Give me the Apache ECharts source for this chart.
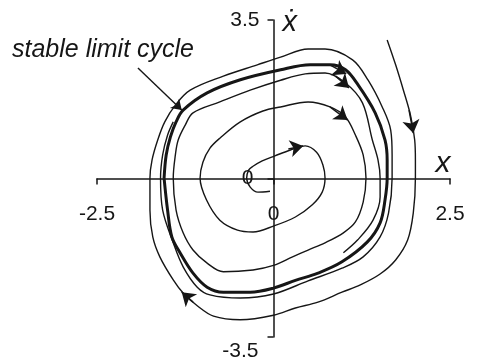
<!DOCTYPE html>
<html>
<head>
<meta charset="utf-8">
<script src="https://cdn.jsdelivr.net/npm/echarts@6/dist/echarts.min.js"></script>
<style>
  html, body { margin: 0; padding: 0; background: #fff; }
  #chart { width: 479px; height: 361px; }
</style>
</head>
<body>
<div id="chart"></div>
<script>
// Phase plane of a self-excited oscillator: x on the horizontal axis, x-dot vertically.
const xTicks = [-2.5, 0, 2.5];
const yTicks = [-3.5, 0, 3.5];
const xName = 'x';
const yName = '\u1E8B';
const cycleLabel = 'stable limit cycle';

// closed orbit (stable limit cycle), clockwise
const limitCycle = [
  [-1.55, 0.01], [-1.52, 0.52], [-1.46, 0.92], [-1.38, 1.25], [-1.28, 1.51],
  [-0.94, 1.89], [-0.47, 2.18], [0.10, 2.40], [0.52, 2.51], [0.80, 2.51],
  [1.02, 2.40], [1.20, 2.06], [1.44, 1.45], [1.58, 0.85], [1.61, 0.41],
  [1.61, 0.01], [1.58, -0.47], [1.51, -0.98], [1.33, -1.40], [0.97, -1.84],
  [0.63, -2.09], [0.31, -2.25], [0.00, -2.42], [-0.33, -2.51], [-0.71, -2.51],
  [-0.94, -2.40], [-1.14, -2.09], [-1.32, -1.65], [-1.44, -1.29], [-1.50, -0.70]
];

// trajectory entering from outside (upper right) and winding onto the cycle
const outerPath = [
  [1.61, 3.06], [1.73, 2.51], [1.84, 1.95], [1.94, 1.40], [2.00, 0.85],
  [2.01, 0.41], [2.01, 0.01], [1.98, -0.76], [1.90, -1.36], [1.73, -1.80],
  [1.51, -2.11], [1.23, -2.35], [0.97, -2.51], [0.63, -2.73], [0.31, -2.86],
  [0.00, -3.02], [-0.47, -3.12], [-0.85, -3.04], [-1.08, -2.81], [-1.28, -2.53],
  [-1.42, -2.24], [-1.61, -1.73], [-1.71, -1.29], [-1.75, -0.70], [-1.75, 0.01],
  [-1.72, 0.41], [-1.64, 0.85], [-1.54, 1.25], [-1.39, 1.62], [-1.18, 1.95],
  [-0.71, 2.26], [-0.23, 2.51], [0.10, 2.68], [0.49, 2.86], [0.73, 2.86],
  [1.12, 2.62], [1.34, 2.17], [1.54, 1.58], [1.66, 1.07], [1.68, 0.52],
  [1.68, 0.01], [1.63, -0.76], [1.51, -1.29], [1.27, -1.73], [0.97, -1.98],
  [0.49, -2.26], [0.00, -2.55], [-0.47, -2.64], [-0.90, -2.57], [-1.08, -2.40],
  [-1.28, -1.95], [-1.42, -1.42], [-1.57, -0.70], [-1.60, 0.01], [-1.57, 0.52],
  [-1.50, 0.96], [-1.42, 1.25]
];

// trajectory spiralling out from near the origin
const innerPath = [
  [-0.05, -0.28], [-0.22, -0.30], [-0.33, -0.19], [-0.38, 0.01], [-0.35, 0.19],
  [-0.29, 0.27], [-0.16, 0.39], [0.02, 0.50], [0.24, 0.63], [0.45, 0.72],
  [0.61, 0.58], [0.70, 0.30], [0.73, 0.01], [0.69, -0.30], [0.55, -0.58],
  [0.31, -0.85], [0.00, -1.05], [-0.29, -1.18], [-0.51, -1.14], [-0.76, -0.92],
  [-0.95, -0.47], [-1.04, 0.01], [-1.00, 0.36], [-0.90, 0.67], [-0.76, 0.89],
  [-0.47, 1.25], [-0.15, 1.49], [0.10, 1.58], [0.49, 1.69], [0.80, 1.58],
  [1.02, 1.36], [1.16, 0.96], [1.27, 0.52], [1.31, 0.01], [1.27, -0.52],
  [1.16, -0.96], [0.99, -1.20], [0.73, -1.42], [0.49, -1.58], [0.27, -1.73],
  [0.00, -1.92], [-0.29, -2.02], [-0.71, -2.06], [-0.94, -1.87], [-1.14, -1.58],
  [-1.28, -1.20], [-1.38, -0.70], [-1.42, 0.01], [-1.39, 0.52], [-1.35, 0.85],
  [-1.25, 1.18], [-1.14, 1.45], [-0.76, 1.69], [-0.33, 1.95], [0.10, 2.17],
  [0.45, 2.31], [0.73, 2.33], [1.02, 2.11], [1.26, 1.67], [1.40, 0.85],
  [1.48, 0.41], [1.51, 0.01], [1.51, -0.41], [1.41, -0.92], [1.19, -1.36],
  [0.99, -1.64]
];

// direction-of-flow arrowheads: [tail, tip]
const flowArrows = [
  [[0.21, 0.65], [0.42, 0.72]],
  [[0.80, 1.58], [1.05, 1.29]],
  [[0.88, 2.26], [1.07, 2.00]],
  [[0.80, 2.51], [1.03, 2.31]],
  [[1.92, 1.51], [1.98, 1.00]],
  [[-1.14, -2.73], [-1.30, -2.51]]
];

// leader from the text to the cycle
const pointer = [[-1.92, 2.44], [-1.30, 1.51]];

const ink = '#161616';
const font = '"Liberation Sans", Arial, "DejaVu Sans", sans-serif';

// plot box
const gridBox = { left: 97, right: 29, top: 20, bottom: 24 };
const W = 479, H = 361;
const plotW = W - gridBox.left - gridBox.right;
const plotH = H - gridBox.top - gridBox.bottom;
// shift each axis (with its labels) onto the other axis' zero
const yShift = -plotW * (0 - xTicks[0]) / (xTicks[2] - xTicks[0]);
const xShift = -plotH * (0 - yTicks[0]) / (yTicks[2] - yTicks[0]);

const chart = echarts.init(document.getElementById('chart'), null, { renderer: 'canvas' });

const pathStyle = (w) => ({
  type: 'line', smooth: 0.35, showSymbol: false, silent: true,
  lineStyle: { color: ink, width: w }
});

chart.setOption({
  animation: false,
  backgroundColor: '#fff',
  grid: Object.assign({ outerBoundsMode: 'none' }, gridBox),
  xAxis: {
    type: 'value', min: xTicks[0], max: xTicks[2], interval: xTicks[2],
    position: 'bottom', offset: xShift,
    splitLine: { show: false },
    axisLine: { onZero: false, lineStyle: { color: ink, width: 1.5 } },
    axisTick: { show: true, length: 6, lineStyle: { color: ink, width: 1.5 } },
    axisLabel: {
      margin: 25, color: ink, fontSize: 21, fontFamily: font,
      formatter: (v) => xTicks.includes(v) ? String(v) : ''
    },
    name: xName, nameLocation: 'end', nameGap: -7,
    nameTextStyle: {
      fontSize: 30, fontStyle: 'italic', fontFamily: font, color: ink,
      align: 'center', verticalAlign: 'bottom', lineHeight: 30
    }
  },
  yAxis: {
    type: 'value', min: yTicks[0], max: yTicks[2], interval: yTicks[2],
    position: 'left', offset: yShift,
    splitLine: { show: false },
    axisLine: { onZero: false, lineStyle: { color: ink, width: 1.5 } },
    axisTick: { show: true, length: 6, lineStyle: { color: ink, width: 1.5 } },
    axisLabel: {
      margin: 2, color: ink, fontSize: 21, fontFamily: font,
      formatter: (v) => v === yTicks[2] ? '{t|' + v + '}' : v === 0 ? '{z|0}' : '{b|' + v + '}',
      rich: {
        t: { fontSize: 21, fontFamily: font, color: ink, padding: [0, 12, 0, 0] },
        z: { fontSize: 21, fontFamily: font, color: ink, padding: [0, 18, 0, 0] },
        b: { fontSize: 21, fontFamily: font, color: ink, padding: [28, 13, 0, 0] }
      }
    },
    name: yName, nameLocation: 'end', nameGap: -3,
    nameTextStyle: {
      fontSize: 29, fontStyle: 'italic', fontFamily: font, color: ink,
      align: 'left', verticalAlign: 'middle', padding: [0, 0, 0, 9]
    }
  },
  series: [
    Object.assign(pathStyle(1.4), { data: outerPath }),
    Object.assign(pathStyle(1.4), { data: innerPath }),
    Object.assign(pathStyle(3), { data: limitCycle.concat([limitCycle[0]]) }),
    {
      type: 'lines', coordinateSystem: 'cartesian2d', silent: true,
      symbol: ['none', 'arrow'], symbolSize: 13,
      lineStyle: { color: ink, width: 1.5, opacity: 1, curveness: 0 },
      data: flowArrows.map((c) => ({ coords: c }))
    },
    {
      type: 'lines', coordinateSystem: 'cartesian2d', silent: true,
      symbol: ['none', 'arrow'], symbolSize: 10,
      lineStyle: { color: ink, width: 1.4, opacity: 1, curveness: 0 },
      data: [{ coords: pointer }]
    }
  ],
  graphic: [{
    type: 'text', left: 12, top: 38, silent: true,
    style: {
      text: cycleLabel, fill: ink,
      font: 'italic 25px ' + font
    }
  }]
});
</script>
</body>
</html>
